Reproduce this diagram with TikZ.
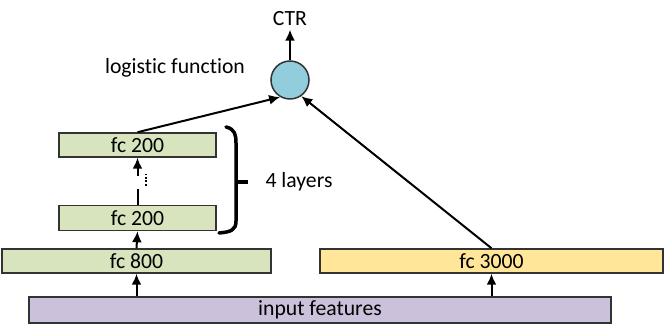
\documentclass[tikz,border=0pt]{standalone}
\usepackage{fontspec}
\setmainfont{Carlito}[Ligatures={NoCommon}]
\usetikzlibrary{calc,arrows.meta}

\definecolor{fcgreen}{HTML}{D7E4BD}
\definecolor{fcyellow}{HTML}{FFE699}
\definecolor{inputc}{HTML}{CCC1DA}
\definecolor{sigblue}{HTML}{92CDDC}

\begin{document}
\begin{tikzpicture}[x=1pt,y=1pt,font=\fontsize{21.7}{26}\selectfont]

\useasboundingbox (0,0) rectangle (665,331);

\tikzstyle{layer}=[draw=black!80,line width=1.5pt,minimum height=24pt,inner sep=0pt]
\tikzstyle{up}=[line width=2pt,-{Latex[length=11pt,width=10pt]}]

\node (input) [layer,fill=inputc,minimum width=582pt,minimum height=26pt] at (320,21) {input features};
\node (fc800) [layer,fill=fcgreen,minimum width=269pt] at (136.5,70) {fc 800};
\node (fc3000) [layer,fill=fcyellow,minimum width=343pt] at (491.5,70) {fc 3000};
\node (fcbot) [layer,fill=fcgreen,minimum width=157pt,minimum height=25pt] at (137.5,113) {fc 200};
\node (fctop) [layer,fill=fcgreen,minimum width=157pt] at (137.5,186) {fc 200};

\node (sig) [circle,draw=black!80,line width=1.5pt,fill=sigblue,minimum size=38pt,inner sep=0pt] at (290,251) {};
\node (ctr) at (290,312) {CTR};
\node (logit) at (175,263) {logistic function};
\node (layers) at (299,149) {4 layers};

% feed forward
\draw [up] (input.north -| fc800) -- (fc800.south);
\draw [up] (input.north -| fc3000) -- (fc3000.south);
\draw [up] (fc800.north) -- (fcbot.south);

% the hidden stack
\draw [line width=2pt] (fcbot.north) -- ++(0,16);
\draw [line width=2pt,dash pattern=on 2pt off 1.5pt] ($(fcbot.north)+(8,19)$) -- ++(0,12);
\draw [up] ($(fctop.south)+(0,-18)$) -- (fctop.south);

\draw [up] (fctop.north) -- (sig.240);
\draw [up] (fc3000.north) -- (sig.305);
\draw [up] (sig.north) -- (ctr.south);

% brace
\draw [line width=3.5pt,line cap=round] (226,204) .. controls (235,202) and (236,196) .. (236,188) -- (236,110) .. controls (236,101) and (231,99) .. (219,98);
\draw [line width=3.5pt] (236,149) -- (248,149);

\end{tikzpicture}
\end{document}
